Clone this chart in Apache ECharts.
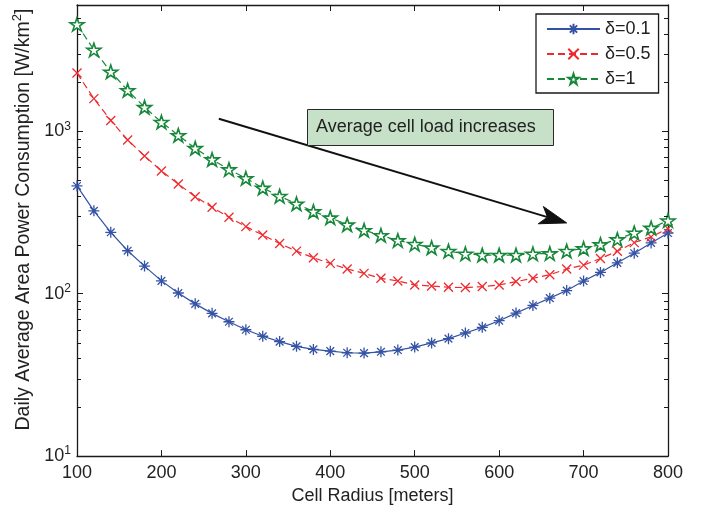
<!DOCTYPE html>
<html>
<head>
<meta charset="utf-8">
<script src="https://cdn.jsdelivr.net/npm/echarts@6/dist/echarts.min.js"></script>
<style>
  html, body { margin: 0; padding: 0; background: #fff; }
  #chart { width: 708px; height: 510px; }
</style>
</head>
<body>
<div id="chart"></div>
<script>
// Cell radius samples (meters)
const radius = [100, 120, 140, 160, 180, 200, 220, 240, 260, 280, 300, 320,
                340, 360, 380, 400, 420, 440, 460, 480, 500, 520, 540, 560,
                580, 600, 620, 640, 660, 680, 700, 720, 740, 760, 780, 800];

// Daily average area power consumption [W/km^2] for each load factor
const powerDelta01 = [461, 324, 239, 184, 148, 120, 101, 86.6, 75.7, 67.2, 60.0, 54.7,
                      50.7, 47.4, 45.4, 44.3, 43.3, 43.1, 43.9, 45.0, 46.9, 49.8, 52.9, 57.3,
                      62.1, 68.2, 76.0, 84.7, 93.9, 104.6, 119.7, 135.3, 155, 177.6, 205.6, 236.6];
const powerDelta05 = [2286, 1591, 1167, 885, 705, 570, 474, 396, 341, 296, 259, 230,
                      204, 183, 166.5, 153.7, 142, 133.5, 124.4, 119.8, 113.2, 111.6, 109.6, 109.1,
                      110.7, 113.2, 118.8, 124.4, 131, 141.9, 150, 164.8, 182.7, 206.5, 224, 251.6];
const powerDelta1  = [4560, 3175, 2328, 1789, 1408, 1140, 945, 787, 671, 583, 514, 448,
                      399, 358, 321, 294, 266, 246, 229, 213, 202, 192, 183, 176,
                      173, 173, 173, 176, 177, 183, 190, 201, 216, 237, 254, 282];

const seriesNames = ['δ=0.1', 'δ=0.5', 'δ=1'];
const xTickValues = [100, 200, 300, 400, 500, 600, 700, 800];
const yDecades = [10, 100, 1000];
const annotationText = 'Average cell load increases';
const arrowFrom = [268, 1197];
const arrowTo = [680, 273];

const FONT = 'Liberation Sans, Arial, Helvetica, sans-serif';
const BLUE = '#3553a5';
const RED = '#ee2a2e';
const GREEN = '#17873a';

const ASTERISK = 'path://M0,5 L10,5 M5,0 L5,10 M1.5,1.5 L8.5,8.5 M1.5,8.5 L8.5,1.5';
const CROSS = 'path://M0,0 L10,10 M0,10 L10,0';
const PENTAGRAM = 'path://M10,0 L12.245,6.91 L19.511,6.91 L13.633,11.18 L15.878,18.09 L10,13.82 L4.122,18.09 L6.367,11.18 L0.489,6.91 L7.755,6.91 Z';

const chart = echarts.init(document.getElementById('chart'), null, { renderer: 'canvas' });

function pairs(values) { return radius.map((r, i) => [r, values[i]]); }

function decadeLabel(v) {
  const lg = Math.log10(v);
  const e = Math.round(lg);
  if (Math.abs(lg - e) > 1e-6) return '';
  return '{b|10}{s|' + e + '}';
}

const frameLine = { show: true, lineStyle: { color: '#1a1a1a', width: 1.3 } };
const inTick = { show: true, inside: true, length: 6, lineStyle: { color: '#1a1a1a', width: 1 } };

const option = {
  animation: false,
  backgroundColor: '#fff',
  textStyle: { fontFamily: FONT },
  grid: { left: 77, right: 40, top: 5, bottom: 51, containLabel: false },
  xAxis: [{
    type: 'value', min: 100, max: 800, interval: 100,
    position: 'bottom',
    name: 'Cell Radius [meters]', nameLocation: 'middle', nameGap: 28,
    nameTextStyle: { fontSize: 18, color: '#222', fontFamily: FONT },
    axisLine: frameLine, axisTick: inTick,
    axisLabel: { fontSize: 18, color: '#222', margin: 8, fontFamily: FONT },
    splitLine: { show: false }
  }, {
    type: 'value', min: 100, max: 800, interval: 100,
    position: 'top',
    axisLine: frameLine, axisTick: inTick,
    axisLabel: { show: false }, splitLine: { show: false }
  }],
  yAxis: [{
    type: 'log', logBase: 10, min: 10, max: 6000,
    position: 'left',
    name: 'Daily Average Area Power Consumption [W/km{s|2}]',
    nameLocation: 'middle', nameGap: 38,
    nameTextStyle: { fontSize: 19.5, color: '#222', fontFamily: FONT,
      padding: [0, 0, 0, 22],
      rich: { s: { fontSize: 13, color: '#222', fontFamily: FONT, padding: [0, 0, 11, 0] } } },
    axisLine: frameLine, axisTick: inTick,
    axisLabel: {
      margin: 6, color: '#222', formatter: decadeLabel,
      rich: {
        b: { fontSize: 18, color: '#222', fontFamily: FONT },
        s: { fontSize: 12, color: '#222', fontFamily: FONT, padding: [0, 0, 10, 0] }
      }
    },
    splitLine: { show: false }
  }, {
    type: 'log', logBase: 10, min: 10, max: 6000,
    position: 'right',
    axisLine: frameLine, axisTick: inTick,
    axisLabel: { show: false }, splitLine: { show: false }
  }],
  legend: {
    orient: 'vertical',
    left: 536, top: 14,
    padding: [6, 8, 5, 10],
    itemWidth: 53, itemHeight: 13, itemGap: 7,
    borderColor: '#1a1a1a', borderWidth: 1.3,
    backgroundColor: '#fff',
    textStyle: { fontSize: 18, color: '#222', fontFamily: FONT },
    data: seriesNames
  },
  series: [{
    name: seriesNames[0], type: 'line', xAxisIndex: 0, yAxisIndex: 0,
    data: pairs(powerDelta01),
    color: BLUE,
    lineStyle: { color: BLUE, width: 1.2, type: 'solid' },
    symbol: ASTERISK, symbolSize: 11,
    itemStyle: { color: BLUE, borderColor: BLUE, borderWidth: 1.3 },
    emphasis: { disabled: true }, z: 3
  }, {
    name: seriesNames[1], type: 'line', xAxisIndex: 0, yAxisIndex: 0,
    data: pairs(powerDelta05),
    color: RED,
    lineStyle: { color: RED, width: 1.2, type: [7, 4] },
    symbol: CROSS, symbolSize: 9,
    itemStyle: { color: RED, borderColor: RED, borderWidth: 1.3 },
    emphasis: { disabled: true }, z: 3
  }, {
    name: seriesNames[2], type: 'line', xAxisIndex: 0, yAxisIndex: 0,
    data: pairs(powerDelta1),
    color: GREEN,
    lineStyle: { color: GREEN, width: 1.2, type: [7, 4] },
    symbol: PENTAGRAM, symbolSize: 14, symbolKeepAspect: true,
    itemStyle: { color: '#ffffff', borderColor: GREEN, borderWidth: 1.6 },
    emphasis: { disabled: true }, z: 3
  }]
};

chart.setOption(option);

// Log-scale minor ticks on both vertical edges, the annotation box and the arrow
function buildOverlay() {
  const g = [];
  const xl = chart.convertToPixel({ xAxisIndex: 0 }, 100);
  const xr = chart.convertToPixel({ xAxisIndex: 0 }, 800);
  yDecades.forEach(d => {
    for (let k = 2; k <= 9; k++) {
      const v = d * k;
      if (v > 6000) continue;
      const y = Math.round(chart.convertToPixel({ yAxisIndex: 0 }, v)) + 0.5;
      g.push({ type: 'line', silent: true, z: 10,
        shape: { x1: xl, y1: y, x2: xl + 4, y2: y },
        style: { stroke: '#1a1a1a', lineWidth: 1 } });
      g.push({ type: 'line', silent: true, z: 10,
        shape: { x1: xr - 4, y1: y, x2: xr, y2: y },
        style: { stroke: '#1a1a1a', lineWidth: 1 } });
    }
  });

  // arrow
  const p0 = chart.convertToPixel({ xAxisIndex: 0, yAxisIndex: 0 }, arrowFrom);
  const p1 = chart.convertToPixel({ xAxisIndex: 0, yAxisIndex: 0 }, arrowTo);
  const dx = p1[0] - p0[0], dy = p1[1] - p0[1];
  const len = Math.hypot(dx, dy);
  const ux = dx / len, uy = dy / len;
  const nx = -uy, ny = ux;
  const headLen = 27, headHalf = 9, notch = 20;
  const bx = p1[0] - headLen * ux, by = p1[1] - headLen * uy;
  const cx = p1[0] - notch * ux, cy = p1[1] - notch * uy;
  g.push({ type: 'line', silent: true, z: 20,
    shape: { x1: p0[0], y1: p0[1], x2: cx, y2: cy },
    style: { stroke: '#111', lineWidth: 2 } });
  g.push({ type: 'polygon', silent: true, z: 20,
    shape: { points: [[p1[0], p1[1]], [bx + headHalf * nx, by + headHalf * ny], [cx, cy], [bx - headHalf * nx, by - headHalf * ny]] },
    style: { fill: '#111', stroke: '#111', lineWidth: 1 } });

  // annotation box
  g.push({ type: 'rect', silent: true, z: 21,
    shape: { x: 307.5, y: 109.5, width: 246, height: 36 },
    style: { fill: '#c7e1c8', stroke: '#2a2a2a', lineWidth: 1 } });
  g.push({ type: 'text', silent: true, z: 22,
    style: { x: 316, y: 127.5, text: annotationText, fill: '#222',
      font: '18px ' + FONT, verticalAlign: 'middle', align: 'left' } });
  return g;
}

chart.setOption({ graphic: buildOverlay() });
</script>
</body>
</html>
